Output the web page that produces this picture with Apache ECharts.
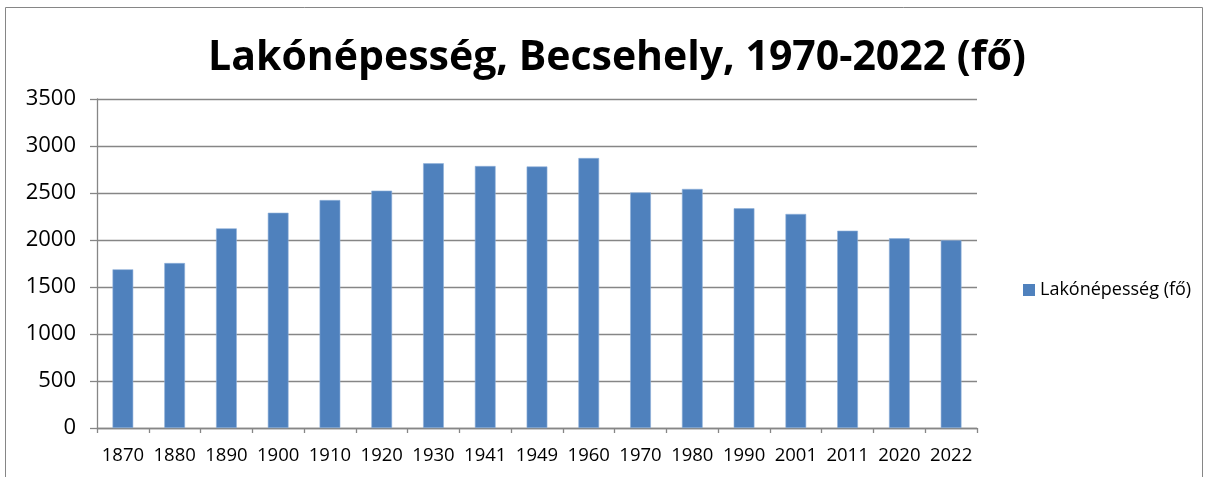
<!DOCTYPE html>
<html><head><meta charset="utf-8">
<script src="https://cdn.jsdelivr.net/npm/echarts@6/dist/echarts.min.js"></script>
<style>html,body{margin:0;padding:0;background:#fff}#c{width:1209px;height:477px}</style>
</head><body><div id="c"></div>
<script>
const categories = ['1870','1880','1890','1900','1910','1920','1930','1941','1949','1960','1970','1980','1990','2001','2011','2020','2022'];
const population = [1688,1755,2124,2290,2425,2525,2816,2787,2782,2872,2507,2543,2337,2277,2099,2018,1997];
const seriesName = 'Lakónépesség (fő)';
const titleText = 'Lakónépesség, Becsehely, 1970-2022 (fő)';
const yTicks = {min:0, max:3500, interval:500};

const chart = echarts.init(document.getElementById('c'));
chart.setOption({
  animation:false,
  textStyle:{fontFamily:'Open Sans, Liberation Sans, sans-serif'},
  title:{text:titleText,left:612,top:33,textAlign:'center',
    textStyle:{fontSize:41,fontWeight:'bold',color:'#000',fontFamily:'Open Sans, Liberation Sans, sans-serif'}},
  graphic:[{type:'rect',shape:{x:5.5,y:7.5,width:1197,height:480},style:{fill:'none',stroke:'#868686',lineWidth:1},silent:true,z:-10}],
  legend:{orient:'vertical',left:1018,top:276,itemWidth:12,itemHeight:12,itemGap:6,
    icon:'rect',textStyle:{fontSize:18,color:'#000'},itemStyle:{borderWidth:0},data:[seriesName]},
  grid:{left:97,right:232,top:99,bottom:49,containLabel:false},
  xAxis:{type:'category',data:categories,
    axisLine:{lineStyle:{color:'#868686',width:1.3}},
    axisTick:{show:true,alignWithLabel:false,length:5,lineStyle:{color:'#868686',width:1.3}},
    axisLabel:{fontSize:18.5,color:'#000',margin:18,interval:0}},
  yAxis:{type:'value',min:yTicks.min,max:yTicks.max,interval:yTicks.interval,
    axisLine:{show:true,lineStyle:{color:'#868686',width:1.3}},
    axisTick:{show:true,length:7,lineStyle:{color:'#868686',width:1.3}},
    splitLine:{lineStyle:{color:'#868686',width:1.3}},
    axisLabel:{fontSize:22,color:'#000',margin:21,formatter:v=>String(v)}},
  series:[{name:seriesName,type:'bar',data:population,barWidth:'40%',
    itemStyle:{color:'#4F81BD',borderColor:'#8FB0DA',borderWidth:0.6}}]
});
</script></body></html>
